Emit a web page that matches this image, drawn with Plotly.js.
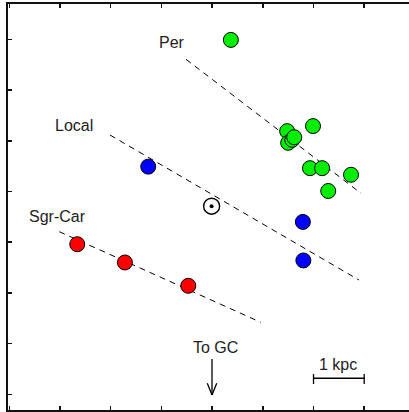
<!DOCTYPE html>
<html>
<head>
<meta charset="utf-8">
<script src="https://cdn.plot.ly/plotly-3.0.1.min.js"></script>
<style>
html, body { margin: 0; padding: 0; overflow: hidden; background: #fff; }
#chart { width: 416px; height: 412px; }
</style>
</head>
<body>
<div id="chart"></div>
<script>
// Data (kpc, arbitrary origin)
const perX   = [4.37, 5.48, 5.50, 5.58, 5.62, 5.99, 5.93, 6.17, 6.74, 6.29];
const perY   = [6.99, 5.19, 4.96, 5.02, 5.07, 5.29, 4.46, 4.46, 4.33, 4.01];
const localX = [2.74, 5.79, 5.80];
const localY = [4.49, 3.40, 2.64];
const sgrX   = [1.34, 2.28, 3.53];
const sgrY   = [2.96, 2.60, 2.14];
const sunX   = [3.99];
const sunY   = [3.71];
// Spiral arm fits (end points)
const perLineX   = [3.485, 6.937];
const perLineY   = [6.607, 3.964];
const localLineX = [1.986, 6.897];
const localLineY = [5.114, 2.254];
const sgrLineX   = [0.986, 4.959];
const sgrLineY   = [3.207, 1.420];
const armLabels  = ["Per", "Local", "Sgr-Car"];

const dashStyle = "6px,5px";
function armLine(x, y) {
  return {x: x, y: y, mode: "lines", type: "scatter", hoverinfo: "skip",
          line: {color: "#000", width: 1, dash: dashStyle}, showlegend: false};
}
function pts(x, y, c) {
  return {x: x, y: y, mode: "markers", type: "scatter", showlegend: false,
          marker: {size: 15, color: c, line: {color: "#000", width: 1}}};
}
const traces = [
  armLine(perLineX, perLineY),
  armLine(localLineX, localLineY),
  armLine(sgrLineX, sgrLineY),
  pts(sgrX, sgrY, "#ff0000"),
  pts(localX, localY, "#0000ff"),
  pts(perX, perY, "#00f000"),
  {x: sunX, y: sunY, mode: "markers", type: "scatter", showlegend: false,
   marker: {size: 16, symbol: "circle-open", color: "#000", line: {color: "#000", width: 1.4}}},
  {x: sunX, y: sunY, mode: "markers", type: "scatter", showlegend: false,
   marker: {size: 4, color: "#000"}}
];

const txtFont = {family: "Liberation Sans, Arial, sans-serif", size: 16, color: "#222"};
function label(t, x, y) {
  return {text: t, x: x, y: y, xref: "x", yref: "y", showarrow: false,
          xanchor: "center", yanchor: "middle", font: txtFont};
}
const annotations = [
  label(armLabels[0], 3.209, 6.929),
  label(armLabels[1], 1.266, 5.292),
  label(armLabels[2], 0.951, 3.497),
  label("To GC", 4.067, 0.913),
  label("1 kpc", 6.483, 0.597)
];

const ln = {color: "#000", width: 1.3};
const shapes = [
  // arrow to GC
  {type: "line", xref: "x", yref: "y", x0: 3.998, x1: 3.998, y0: 0.696, y1: -0.014, line: ln},
  {type: "line", xref: "x", yref: "y", x0: 3.905, x1: 3.998, y0: 0.217, y1: -0.014, line: ln},
  {type: "line", xref: "x", yref: "y", x0: 4.091, x1: 3.998, y0: 0.217, y1: -0.014, line: ln},
  // scale bar
  {type: "line", xref: "x", yref: "y", x0: 6.0, x1: 7.0, y0: 0.316, y1: 0.316, line: ln},
  {type: "line", xref: "x", yref: "y", x0: 6.0, x1: 6.0, y0: 0.203, y1: 0.40, line: ln},
  {type: "line", xref: "x", yref: "y", x0: 7.0, x1: 7.0, y0: 0.203, y1: 0.40, line: ln}
];

const axisCommon = {
  showgrid: false, zeroline: false, showticklabels: false,
  showline: true, linecolor: "#111", linewidth: 2, mirror: "ticks",
  ticks: "inside", ticklen: 4, tickwidth: 1.5, tickcolor: "#111",
  dtick: 1, tick0: 0, fixedrange: true
};
const layout = {
  width: 416, height: 412,
  margin: {l: 8, r: 2, t: 4, b: 2},
  paper_bgcolor: "#fff", plot_bgcolor: "#fff",
  xaxis: Object.assign({}, axisCommon, {range: [-0.026, 7.982]}),
  yaxis: Object.assign({}, axisCommon, {range: [-0.31, 7.698]}),
  annotations: annotations,
  shapes: shapes,
  showlegend: false
};
Plotly.newPlot("chart", traces, layout, {displayModeBar: false, staticPlot: true});
</script>
</body>
</html>
